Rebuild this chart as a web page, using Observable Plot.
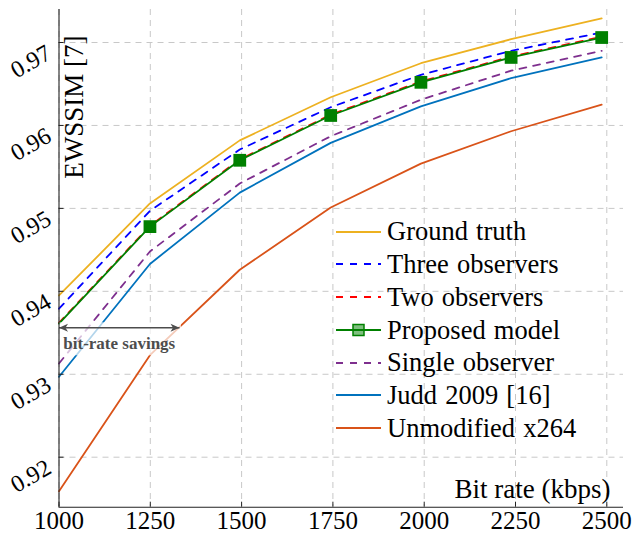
<!DOCTYPE html>
<html>
<head>
<meta charset="utf-8">
<script src="https://cdn.jsdelivr.net/npm/d3@7"></script>
<script src="https://cdn.jsdelivr.net/npm/@observablehq/plot@0.6"></script>
<style>
  body { margin: 0; background: #fff; }
  #wrap { position: relative; width: 634px; height: 533px; font-family: "Liberation Serif", "Times New Roman", serif; }
  #legend { position: absolute; left: 336px; top: 215.3px; }
  .row { display: flex; align-items: center; height: 32.75px; }
  .row svg { display: block; }
  .row span { font-size: 26.5px; word-spacing: 1.5px; margin-left: 5px; line-height: 32.75px; color: #000; white-space: nowrap; }
</style>
</head>
<body>
<div id="wrap"></div>
<script>
// ---- data ----
const bitRates = [1000, 1249, 1495, 1744, 1991, 2238, 2486];
const groundTruth    = [0.9395, 0.9506, 0.9582, 0.9634, 0.9675, 0.9704, 0.9729];
const threeObservers = [0.9379, 0.9497, 0.9571, 0.9622, 0.9661, 0.9690, 0.9712];
const twoObservers   = [0.9362, 0.9479, 0.9559, 0.9613, 0.9653, 0.9683, 0.9707];
const proposedModel  = [0.9361, 0.9478, 0.9558, 0.9612, 0.9652, 0.9682, 0.9706];
const singleObserver = [0.9313, 0.9448, 0.9530, 0.9587, 0.9631, 0.9666, 0.9690];
const judd2009       = [0.9297, 0.9433, 0.9519, 0.9579, 0.9623, 0.9657, 0.9682];
const unmodifiedX264 = [0.9159, 0.9323, 0.9426, 0.9501, 0.9554, 0.9593, 0.9625];

const seriesNames = ["Ground truth", "Three observers", "Two observers", "Proposed model",
                     "Single observer", "Judd 2009 [16]", "Unmodified x264"];
const seriesValues = [groundTruth, threeObservers, twoObservers, proposedModel,
                      singleObserver, judd2009, unmodifiedX264];

const xTicks = [1000, 1250, 1500, 1750, 2000, 2250, 2500];
const yTicks = [0.92, 0.93, 0.94, 0.95, 0.96, 0.97];
const xDomain = [1000, 2545.7];
const yDomain = [0.91397, 0.97398];
const xLabel = "Bit rate (kbps)";
const yLabel = "EWSSIM [7]";
const savingsFrom = 1000, savingsTo = 1330, savingsLevel = 0.9356;
const savingsLabel = "bit-rate savings";

// ---- styles ----
const styles = {
  "Ground truth":    {color: "#EDB120", dash: null},
  "Three observers": {color: "#0000FF", dash: "7,7"},
  "Two observers":   {color: "#FF0000", dash: "7,7"},
  "Proposed model":  {color: "#008000", dash: null, marker: true},
  "Single observer": {color: "#7E2F8E", dash: "7,7"},
  "Judd 2009 [16]":  {color: "#0072BD", dash: null},
  "Unmodified x264": {color: "#D95319", dash: null}
};
const drawOrder = ["Unmodified x264", "Judd 2009 [16]", "Single observer", "Ground truth",
                   "Three observers", "Two observers", "Proposed model"];

const font = '"Liberation Serif", "Times New Roman", serif';

function table(name) {
  const vals = seriesValues[seriesNames.indexOf(name)];
  return bitRates.map((b, i) => ({x: b, y: vals[i]}));
}

function stealth(color, context) {
  const doc = (context && context.document) || document;
  const m = doc.createElementNS("http://www.w3.org/2000/svg", "marker");
  m.setAttribute("viewBox", "-10 -5 11 10");
  m.setAttribute("markerWidth", "11");
  m.setAttribute("markerHeight", "10");
  m.setAttribute("markerUnits", "userSpaceOnUse");
  m.setAttribute("orient", "auto-start-reverse");
  const p = doc.createElementNS("http://www.w3.org/2000/svg", "path");
  p.setAttribute("d", "M-9,-4L0,0L-9,4L-6.5,0Z");
  p.setAttribute("fill", color);
  p.setAttribute("stroke", "none");
  m.appendChild(p);
  return m;
}

function build(arrowMarker) {
  const lineMarks = drawOrder.map(name => Plot.line(table(name), {
    x: "x", y: "y",
    stroke: styles[name].color,
    strokeWidth: 1.8,
    strokeDasharray: styles[name].dash
  }));
  const proposedPts = table("Proposed model").slice(1);
  const ann = [{x1: savingsFrom, x2: savingsTo, y: savingsLevel, mid: (savingsFrom + savingsTo) / 2, label: savingsLabel}];

  return Plot.plot({
    width: 634, height: 533,
    marginLeft: 58.5, marginRight: 11, marginTop: 9, marginBottom: 26.3,
    x: {domain: xDomain},
    y: {domain: yDomain},
    style: {fontFamily: font, background: "white", color: "#000"},
    marks: [
      Plot.gridX(xTicks, {stroke: "#c8c8c8", strokeOpacity: 1, strokeDasharray: "6,5"}),
      Plot.gridY(yTicks, {stroke: "#c8c8c8", strokeOpacity: 1, strokeDasharray: "6,5"}),
      ...lineMarks,
      Plot.dot(proposedPts, {x: "x", y: "y", symbol: "square", r: 7.2, fill: "#008000", stroke: null}),
      // annotation
      Plot.rect(ann, {x1: "x1", x2: "x2", y1: "y", y2: "y", insetTop: -5, insetBottom: -28, insetLeft: 0.8, insetRight: -2, fill: "white", fillOpacity: 0.7}),
      Plot.link(ann, {x1: "x1", x2: "x2", y1: "y", y2: "y", stroke: "#4d4d4d", strokeWidth: 1.6,
                      markerStart: arrowMarker, markerEnd: arrowMarker}),
      Plot.text(ann, {x: "mid", y: "y", text: "label", fontWeight: "bold", fontSize: 17, fill: "#4d4d4d",
                      lineAnchor: "bottom", dy: 21.6, fontFamily: font}),
      // axis lines
      Plot.ruleX([xDomain[0]], {stroke: "#222", strokeWidth: 1.1}),
      Plot.ruleY([yDomain[0]], {stroke: "#222", strokeWidth: 1.1}),
      // inward ticks
      Plot.axisX(xTicks, {tickSize: 5, text: null, dy: -5, stroke: "#222", label: null}),
      Plot.axisY(yTicks, {tickSize: 5, text: null, dx: 5, stroke: "#222", label: null}),
      // tick labels
      Plot.axisX(xTicks, {tickSize: 0, tickPadding: 4.5, fontSize: 25, tickFormat: d3.format("d"), label: null, fontFamily: font}),
      Plot.axisY(yTicks, {tickSize: 0, tickPadding: 10, tickRotate: -30, dy: 8.5, fontSize: 24, tickFormat: d => d.toFixed(2), label: null, fontFamily: font}),
      // axis titles
      Plot.text([xLabel], {text: d => d, frameAnchor: "bottom-right", textAnchor: "end", lineAnchor: "bottom", dx: -13, dy: -9.7, fontSize: 27, fontFamily: font, style: "word-spacing: 2px"}),
      Plot.text([yLabel], {text: d => d, frameAnchor: "top-left", rotate: -90, textAnchor: "end", lineAnchor: "bottom", dx: 23.5, dy: 26, fontSize: 27, fontFamily: font})
    ]
  });
}

let chart;
try { chart = build(stealth); } catch (e) { chart = build("arrow"); }
const wrap = document.getElementById("wrap");
wrap.appendChild(chart);

// legend
const legend = document.createElement("div");
legend.id = "legend";
seriesNames.forEach(name => {
  const st = styles[name];
  const row = document.createElement("div");
  row.className = "row";
  const svg = d3.create("svg").attr("width", 46).attr("height", 20);
  svg.append("line").attr("x1", 0).attr("x2", 45).attr("y1", 10).attr("y2", 10)
    .attr("stroke", st.color).attr("stroke-width", 1.8)
    .attr("stroke-dasharray", st.dash);
  if (st.marker) {
    svg.append("rect").attr("x", 17).attr("y", 4.5).attr("width", 11).attr("height", 11)
      .attr("fill", st.color).attr("fill-opacity", 0.5).attr("stroke", st.color).attr("stroke-width", 1.5);
  }
  row.appendChild(svg.node());
  const span = document.createElement("span");
  span.textContent = name;
  row.appendChild(span);
  legend.appendChild(row);
});
wrap.appendChild(legend);
d3.select(chart).selectAll("text").style("word-spacing", null);
</script>
</body>
</html>
